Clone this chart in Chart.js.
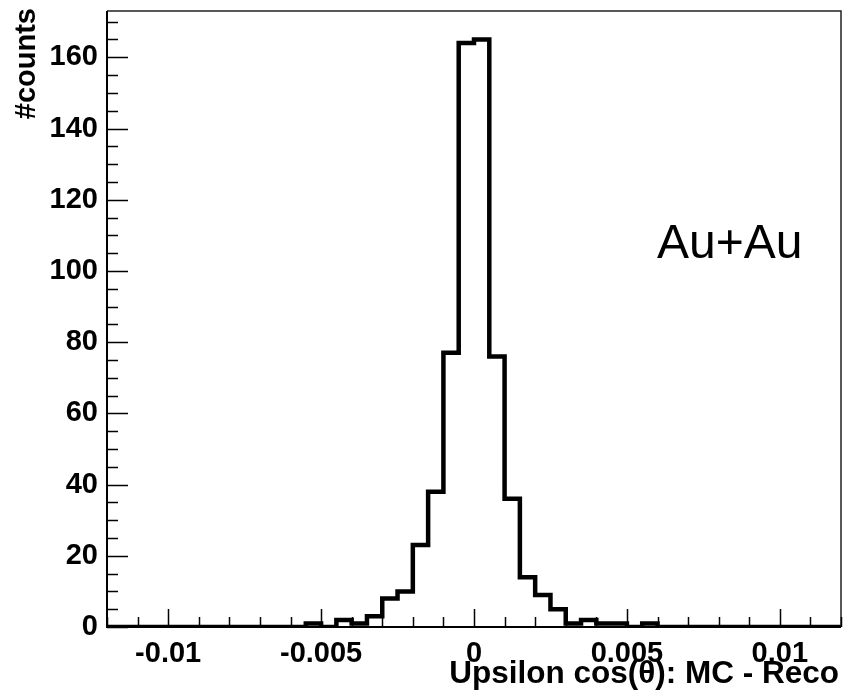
<!DOCTYPE html>
<html>
<head>
<meta charset="utf-8">
<script src="https://cdn.jsdelivr.net/npm/chart.js@4.4.1/dist/chart.umd.min.js"></script>
<style>
  body { margin: 0; background: #fff; }
  #wrap { width: 844px; height: 690px; }
</style>
</head>
<body>
<div id="wrap"><canvas id="myChart" width="844" height="690"></canvas></div>
<script>
// histogram: 48 bins of 0.0005 from -0.012 to 0.012
const xMin = -0.012;
const xMax = 0.012;
const binWidth = 0.0005;
const counts = [
    0, 0, 0, 0, 0, 0, 0, 0, 0, 0, 0, 0,
    0, 1, 0, 2, 1, 3, 8, 10, 23, 38, 77, 164,
    165, 76, 36, 14, 9, 5, 1, 2, 1, 1, 0, 1,
    0, 0, 0, 0, 0, 0, 0, 0, 0, 0, 0, 0
];
const yMax = 173;

const xTicks = [-0.01, -0.005, 0, 0.005, 0.01];
const xTickLabels = ['-0.01', '-0.005', '0', '0.005', '0.01'];
const yTicks = [0, 20, 40, 60, 80, 100, 120, 140, 160];
const xMinorStep = 0.001;
const yMinorStep = 5;

const xTitle = 'Upsilon cos(\u03b8): MC - Reco';
const yTitle = '#counts';
const note = 'Au+Au';

const FONT = "'Liberation Sans', Arial, Helvetica, sans-serif";

// step outline: one point per bin at its right edge, vertical step first
const points = [{ x: xMin, y: counts[0] }];
counts.forEach((c, i) => points.push({ x: xMin + (i + 1) * binWidth, y: c }));

const rootFrame = {
    id: 'rootFrame',
    afterDraw(chart) {
        const ctx = chart.ctx;
        const a = chart.chartArea;
        const xs = chart.scales.x;
        const ys = chart.scales.y;
        ctx.save();

        // frame
        ctx.strokeStyle = '#222';
        ctx.lineWidth = 1.5;
        ctx.beginPath();
        ctx.moveTo(a.left, a.top);
        ctx.lineTo(a.right, a.top);
        ctx.lineTo(a.right, a.bottom);
        ctx.stroke();
        ctx.strokeStyle = '#000';
        ctx.lineWidth = 2;
        ctx.beginPath();
        ctx.moveTo(a.left, a.top);
        ctx.lineTo(a.left, a.bottom);
        ctx.lineTo(a.right, a.bottom);
        ctx.stroke();

        // inside ticks
        ctx.lineWidth = 1.5;
        ctx.beginPath();
        for (let v = 0; v <= yMax; v += yMinorStep) {
            const y = Math.round(ys.getPixelForValue(v)) + 0.5;
            const len = yTicks.includes(v) ? 21 : 11;
            ctx.moveTo(a.left, y);
            ctx.lineTo(a.left + len, y);
        }
        for (let i = 0; ; i++) {
            const v = xMin + i * xMinorStep;
            if (v > xMax + 1e-9) break;
            const x = Math.round(xs.getPixelForValue(v)) + 0.5;
            const major = xTicks.some(t => Math.abs(t - v) < 1e-9);
            const len = major ? 18 : 10;
            ctx.moveTo(x, a.bottom);
            ctx.lineTo(x, a.bottom - len);
        }
        ctx.stroke();

        // titles
        ctx.fillStyle = '#000';
        ctx.font = 'bold 31.5px ' + FONT;
        ctx.textAlign = 'right';
        ctx.textBaseline = 'alphabetic';
        ctx.fillText(xTitle, 839, 683);

        ctx.save();
        ctx.translate(27, 8);
        ctx.rotate(-Math.PI / 2);
        ctx.font = 'bold 29px ' + FONT;
        ctx.textAlign = 'right';
        ctx.textBaseline = 'middle';
        ctx.fillText(yTitle, 0, 0);
        ctx.restore();

        ctx.font = '48px ' + FONT;
        ctx.textAlign = 'left';
        ctx.textBaseline = 'alphabetic';
        ctx.fillText(note, 657, 258);
        ctx.restore();
    }
};

new Chart(document.getElementById('myChart'), {
    type: 'line',
    data: {
        datasets: [{
            data: points,
            stepped: 'after',
            borderColor: '#000',
            borderWidth: 4.5,
            pointRadius: 0,
            fill: false,
            tension: 0
        }]
    },
    options: {
        responsive: false,
        animation: false,
        events: [],
        layout: { padding: { top: 11, right: 3, left: 0, bottom: 0 } },
        plugins: {
            legend: { display: false },
            tooltip: { enabled: false }
        },
        scales: {
            x: {
                type: 'linear',
                min: xMin,
                max: xMax,
                border: { display: false },
                grid: { display: false, drawTicks: false },
                afterBuildTicks: s => { s.ticks = xTicks.map(v => ({ value: v })); },
                afterFit: s => {
                    s.height = 63;
                    s.paddingLeft = 0;
                    s.paddingRight = 0;
                },
                ticks: {
                    padding: 10,
                    color: '#000',
                    maxRotation: 0,
                    autoSkip: false,
                    font: { family: FONT, size: 29, weight: 'bold' },
                    callback: (v) => xTickLabels[xTicks.findIndex(t => Math.abs(t - v) < 1e-9)]
                }
            },
            y: {
                min: 0,
                max: yMax,
                border: { display: false },
                grid: { display: false, drawTicks: false },
                afterBuildTicks: s => { s.ticks = yTicks.map(v => ({ value: v })); },
                afterFit: s => {
                    s.width = 107;
                    s.paddingTop = 0;
                    s.paddingBottom = 0;
                },
                ticks: {
                    padding: 9,
                    color: '#000',
                    autoSkip: false,
                    font: { family: FONT, size: 29, weight: 'bold' }
                }
            }
        }
    },
    plugins: [rootFrame]
});
</script>
</body>
</html>
